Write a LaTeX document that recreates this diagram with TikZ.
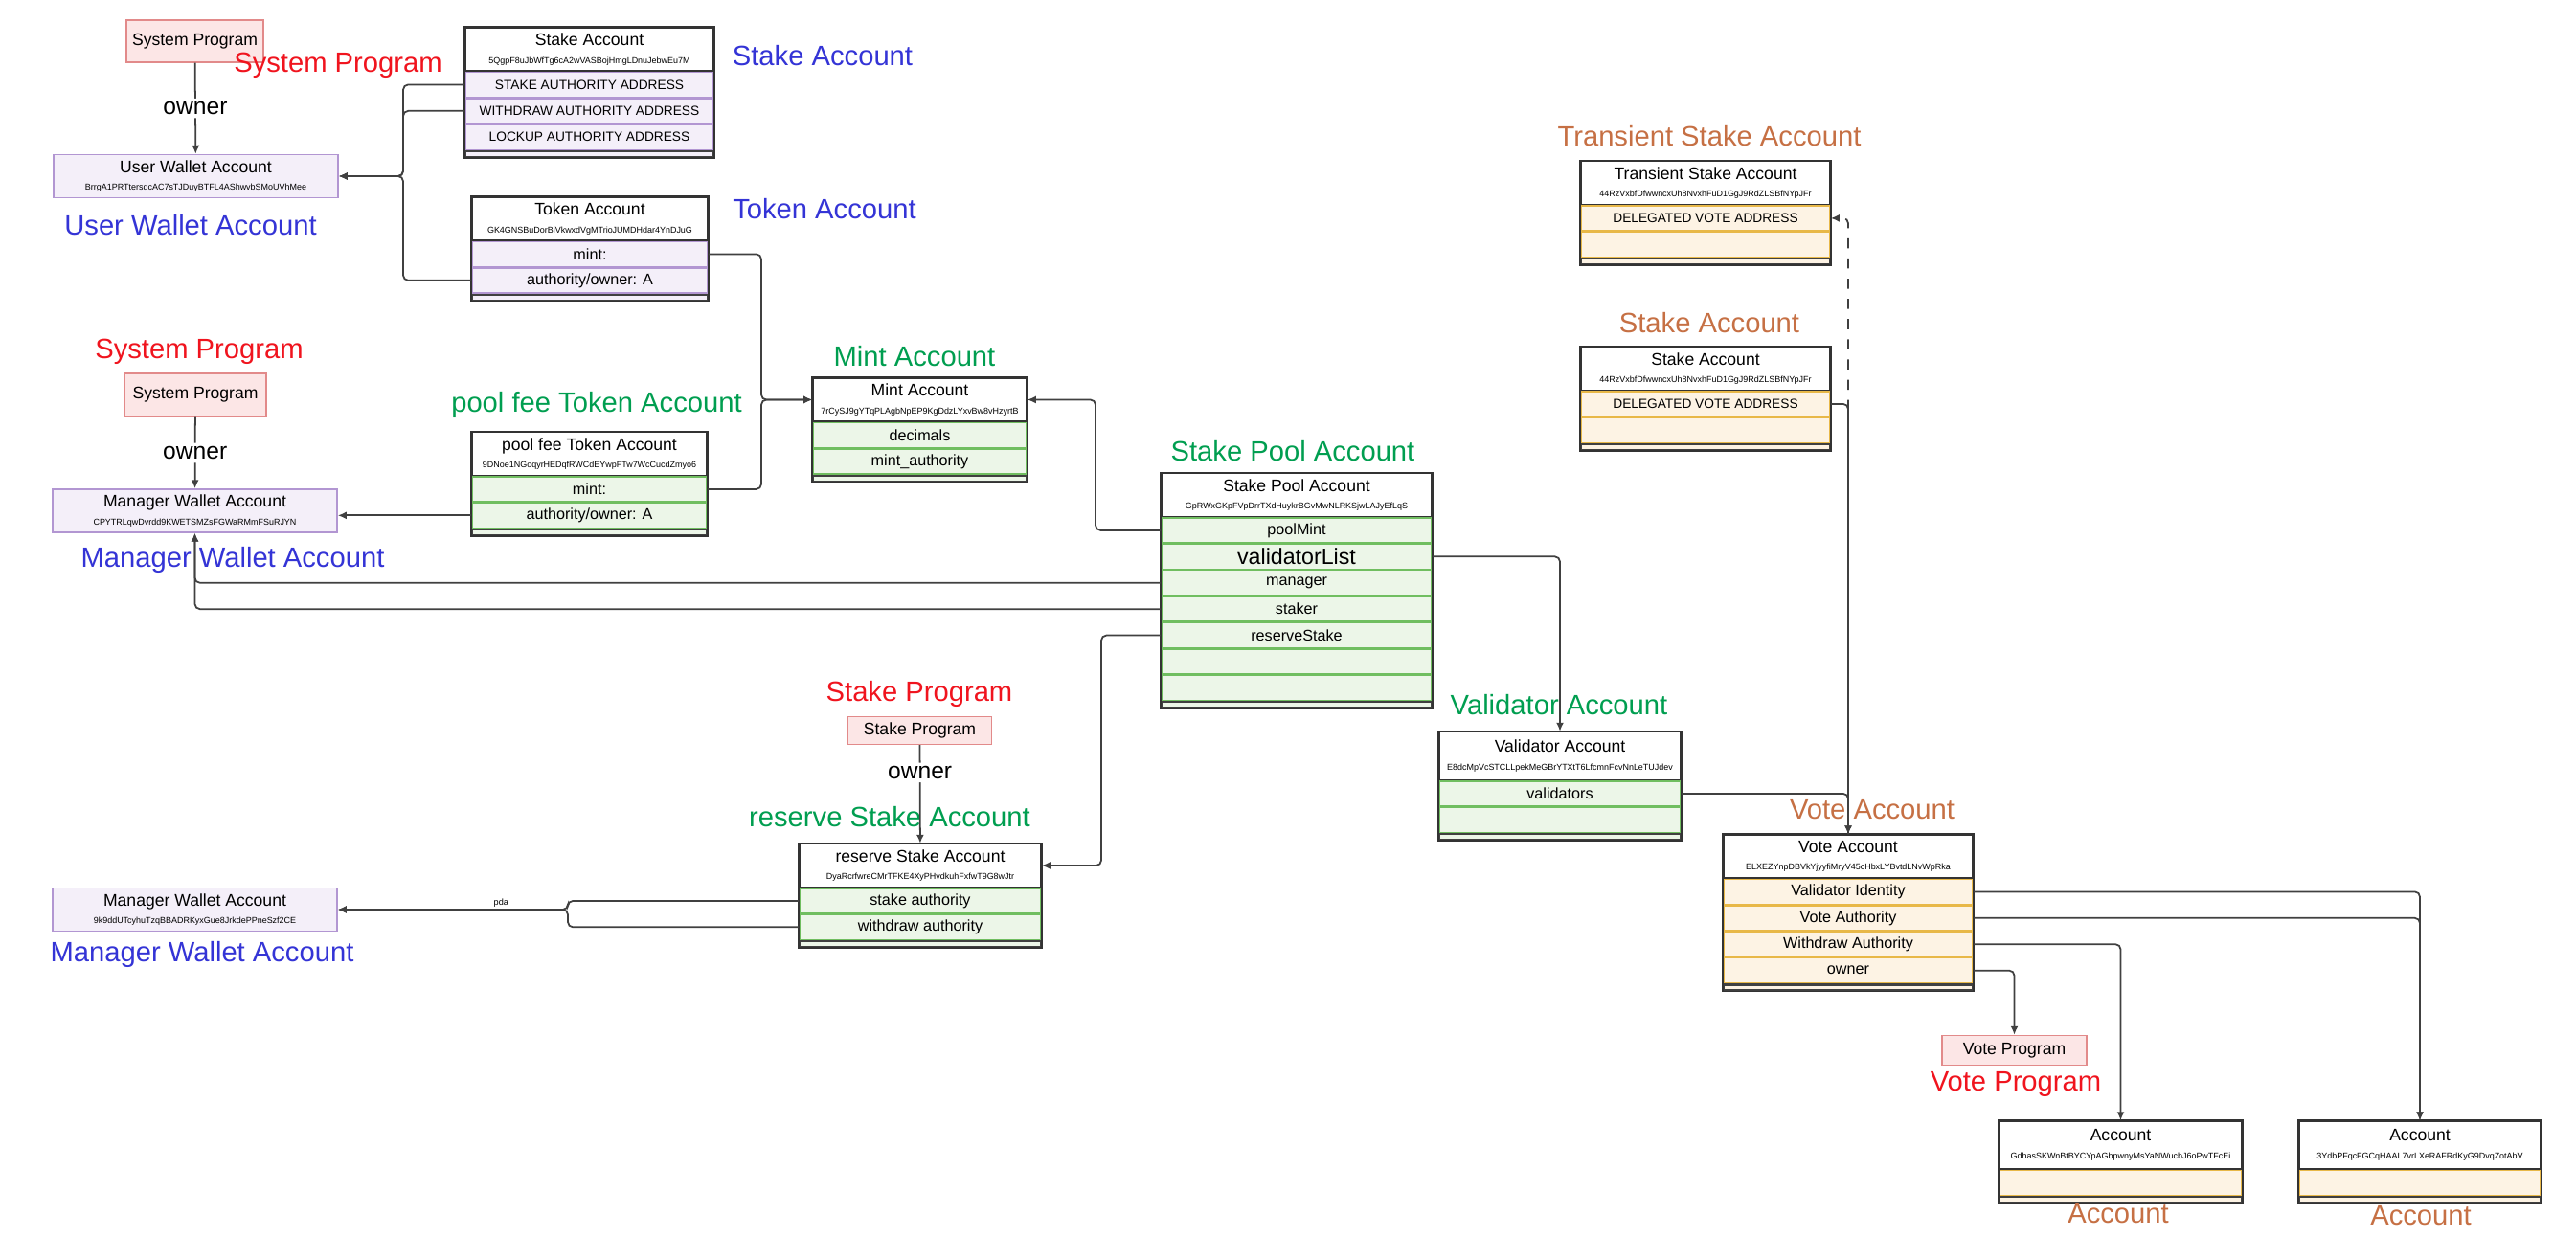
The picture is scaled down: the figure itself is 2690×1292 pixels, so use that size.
\documentclass[tikz,border=0pt]{standalone}
\usepackage{fontspec}
\setmainfont{Liberation Sans}
\usetikzlibrary{arrows.meta,%
	positioning}
\definecolor{lblblue}{RGB}{52,52,214}
\definecolor{lblred}{RGB}{240,20,30}
\definecolor{lblgreen}{RGB}{0,158,80}
\definecolor{lblorange}{RGB}{198,112,68}
\definecolor{purpfill}{RGB}{244,239,249}
\definecolor{purpline}{RGB}{178,150,210}
\definecolor{grnfill}{RGB}{236,246,232}
\definecolor{grnline}{RGB}{112,190,96}
\definecolor{orgfill}{RGB}{253,243,228}
\definecolor{orgline}{RGB}{232,184,72}
\definecolor{redfill}{RGB}{252,230,230}
\definecolor{redline}{RGB}{226,138,138}
\newcommand{\addr}[1]{\\[-0.8pt]{\fontsize{2.55}{3}\selectfont #1}}

\begin{document}
\begin{tikzpicture}[x=0.01cm, y=-0.01cm, hdr/.style = {draw=black!80, fill=white, minimum width=#1, minimum height=0.45cm, inner sep=0pt, align=center, font=\fontsize{5}{6}\selectfont}, prow/.style = {draw=purpline, fill=purpfill, minimum width=#1, minimum height=0.26cm, inner sep=0pt, font=\fontsize{4.6}{5}\selectfont}, grow/.style = {prow=#1, draw=grnline, fill=grnfill}, orow/.style = {prow=#1, draw=orgline, fill=orgfill}, foot/.style = {draw=black!75, minimum width=#1, minimum height=0.06cm, inner sep=0pt, line width=0.6pt}, acctframe/.style = {draw=black!80, line width=0.45pt}, prog/.style = {draw=redline, fill=redfill, inner sep=0pt, font=\fontsize{5}{6}\selectfont}, wallet/.style = {draw=purpline, fill=purpfill, minimum width=2.97cm, minimum height=0.45cm, inner sep=0pt, align=center, font=\fontsize{5}{6}\selectfont}, lbl/.style = {inner sep=0pt, font=\fontsize{8.3}{9}\selectfont}, ownr/.style = {fill=white, inner sep=1pt, font=\fontsize{7}{8}\selectfont}, pdatag/.style = {inner sep=0pt, font=\fontsize{2.6}{3}\selectfont}, link/.style = {draw=black!75, line width=0.5pt, rounded corners=1.5pt, -{Latex[length=0.9mm,width=0.8mm]}}]
	\useasboundingbox[fill=white] (0,0) rectangle (2690,1292);
	% user wallet side
	\node[prog, minimum width=1.43cm, minimum height=0.44cm] (sysA) at (203.5,43) {System Program};
	\node[lbl, text=lblred] (sysA-l) at (353,68) {System Program};
	\node[wallet] (uwa) at (204.5,184) {User Wallet Account\addr{BrrgA1PRTtersdcAC7sTJDuyBTFL4AShwvbSMoUVhMee}};
	\node[lbl, text=lblblue] (uwa-l) at (199,235) {User Wallet Account};
	\node[hdr=2.59cm] (stake) at (615.5,51.5) {Stake Account\addr{5QgpF8uJbWfTg6cA2wVASBojHmgLDnuJebwEu7M}};
	\node[prow=2.59cm, font=\fontsize{3.9}{4}\selectfont, below=0pt of stake] (stakeA) {STAKE AUTHORITY ADDRESS};
	\node[prow=2.59cm, font=\fontsize{3.9}{4}\selectfont, below=0pt of stakeA] (stakeB) {WITHDRAW AUTHORITY ADDRESS};
	\node[prow=2.59cm, font=\fontsize{3.9}{4}\selectfont, below=0pt of stakeB] (stakeC) {LOCKUP AUTHORITY ADDRESS};
	\node[foot=2.59cm, fill=purpfill, below=0pt of stakeC] (stakeF) {};
	\draw[acctframe] (stake.north west) rectangle (stakeF.south east);
	\node[lbl, text=lblblue] (stake-l) at (859,58) {Stake Account};
	\node[hdr=2.46cm] (tok) at (616,228.5) {Token Account\addr{GK4GNSBuDorBiVkwxdVgMTrioJUMDHdar4YnDJuG}};
	\node[prow=2.46cm, below=0pt of tok] (tokA) {mint:};
	\node[prow=2.46cm, below=0pt of tokA] (tokB) {authority/owner: A};
	\node[foot=2.46cm, fill=purpfill, below=0pt of tokB] (tokF) {};
	\draw[acctframe] (tok.north west) rectangle (tokF.south east);
	\node[lbl, text=lblblue] (tok-l) at (861,218) {Token Account};
	% manager wallet side
	\node[lbl, text=lblred] (sysB-l) at (208,367) {System Program};
	\node[prog, minimum width=1.48cm, minimum height=0.45cm] (sysB) at (204,412.5) {System Program};
	\node[wallet] (mwa) at (203.5,533.5) {Manager Wallet Account\addr{CPYTRLqwDvrdd9KWETSMZsFGWaRMmFSuRJYN}};
	\node[lbl, text=lblblue] (mwa-l) at (243,585) {Manager Wallet Account};
	\node[lbl, text=lblgreen] (pft-l) at (623,423) {pool fee Token Account};
	\node[hdr=2.45cm] (pft) at (615.5,474) {pool fee Token Account\addr{9DNoe1NGoqyrHEDqfRWCdEYwpFTw7WcCucdZmyo6}};
	\node[grow=2.45cm, below=0pt of pft] (pftA) {mint:};
	\node[grow=2.45cm, below=0pt of pftA] (pftB) {authority/owner: A};
	\node[foot=2.45cm, fill=grnfill, below=0pt of pftB] (pftF) {};
	\draw[acctframe] (pft.north west) rectangle (pftF.south east);
	\node[lbl, text=lblgreen] (mint-l) at (955,372) {Mint Account};
	\node[hdr=2.23cm] (mint) at (960.5,417.5) {Mint Account\addr{7rCySJ9gYTqPLAgbNpEP9KgDdzLYxvBw8vHzyrtB}};
	\node[grow=2.23cm, below=0pt of mint] (mintA) {decimals};
	\node[grow=2.23cm, below=0pt of mintA] (mintB) {mint\_authority};
	\node[foot=2.23cm, fill=grnfill, below=0pt of mintB] (mintF) {};
	\draw[acctframe] (mint.north west) rectangle (mintF.south east);
	% stake pool
	\node[lbl, text=lblgreen] (spa-l) at (1350,471) {Stake Pool Account};
	\node[hdr=2.82cm] (spa) at (1354,517) {Stake Pool Account\addr{GpRWxGKpFVpDrrTXdHuykrBGvMwNLRKSjwLAJyEfLqS}};
	\node[grow=2.82cm, below=0pt of spa] (spaA) {poolMint};
	\node[grow=2.82cm, font=\fontsize{6.6}{7}\selectfont, below=0pt of spaA] (spaB) {validatorList};
	\node[grow=2.82cm, below=0pt of spaB] (spaC) {manager};
	\node[grow=2.82cm, below=0pt of spaC] (spaD) {staker};
	\node[grow=2.82cm, below=0pt of spaD] (spaE) {reserveStake};
	\node[grow=2.82cm, below=0pt of spaE] (spaG) {};
	\node[grow=2.82cm, below=0pt of spaG] (spaH) {};
	\node[foot=2.82cm, fill=grnfill, below=0pt of spaH] (spaF) {};
	\draw[acctframe] (spa.north west) rectangle (spaF.south east);
	% reserve stake
	\node[lbl, text=lblred] (stp-l) at (960,725) {Stake Program};
	\node[prog, minimum width=1.5cm, minimum height=0.29cm] (stp) at (960.5,763) {Stake Program};
	\node[lbl, text=lblgreen] (rsa-l) at (929,853) {reserve Stake Account};
	\node[hdr=2.52cm] (rsa) at (961,904) {reserve Stake Account\addr{DyaRcrfwreCMrTFKE4XyPHvdkuhFxfwT9G8wJtr}};
	\node[grow=2.52cm, below=0pt of rsa] (rsaA) {stake authority};
	\node[grow=2.52cm, below=0pt of rsaA] (rsaB) {withdraw authority};
	\node[foot=2.52cm, fill=grnfill, below=0pt of rsaB] (rsaF) {};
	\draw[acctframe] (rsa.north west) rectangle (rsaF.south east);
	\node[wallet] (mwb) at (203.5,950) {Manager Wallet Account\addr{9k9ddUTcyhuTzqBBADRKyxGue8JrkdePPneSzf2CE}};
	\node[lbl, text=lblblue] (mwb-l) at (211,997) {Manager Wallet Account};
	% validator
	\node[lbl, text=lblgreen] (val-l) at (1628,736) {Validator Account};
	\node[hdr=2.52cm, minimum height=0.5cm] (val) at (1629,789.5) {Validator Account\addr{E8dcMpVcSTCLLpekMeGBrYTXtT6LfcmnFcvNnLeTUJdev}};
	\node[grow=2.52cm, below=0pt of val] (valA) {validators};
	\node[grow=2.52cm, below=0pt of valA] (valB) {};
	\node[foot=2.52cm, fill=grnfill, below=0pt of valB] (valF) {};
	\draw[acctframe] (val.north west) rectangle (valF.south east);
	% transient and stake
	\node[lbl, text=lblorange] (trs-l) at (1785,142) {Transient Stake Account};
	\node[hdr=2.6cm] (trs) at (1781,191) {Transient Stake Account\addr{44RzVxbfDfwwncxUh8NvxhFuD1GgJ9RdZLSBfNYpJFr}};
	\node[orow=2.6cm, font=\fontsize{3.9}{4}\selectfont, below=0pt of trs] (trsA) {DELEGATED VOTE ADDRESS};
	\node[orow=2.6cm, below=0pt of trsA] (trsB) {};
	\node[foot=2.6cm, fill=orgfill, below=0pt of trsB] (trsF) {};
	\draw[acctframe] (trs.north west) rectangle (trsF.south east);
	\node[lbl, text=lblorange] (stkx-l) at (1785,337) {Stake Account};
	\node[hdr=2.6cm] (stkx) at (1781,385) {Stake Account\addr{44RzVxbfDfwwncxUh8NvxhFuD1GgJ9RdZLSBfNYpJFr}};
	\node[orow=2.6cm, font=\fontsize{3.9}{4}\selectfont, below=0pt of stkx] (stkxA) {DELEGATED VOTE ADDRESS};
	\node[orow=2.6cm, below=0pt of stkxA] (stkxB) {};
	\node[foot=2.6cm, fill=orgfill, below=0pt of stkxB] (stkxF) {};
	\draw[acctframe] (stkx.north west) rectangle (stkxF.south east);
	% vote account
	\node[lbl, text=lblorange] (vote-l) at (1955,846) {Vote Account};
	\node[hdr=2.6cm] (vote) at (1930,894.5) {Vote Account\addr{ELXEZYnpDBVkYjyyfiMryV45cHbxLYBvtdLNvWpRka}};
	\node[orow=2.6cm, below=0pt of vote] (voteA) {Validator Identity};
	\node[orow=2.6cm, below=0pt of voteA] (voteB) {Vote Authority};
	\node[orow=2.6cm, below=0pt of voteB] (voteC) {Withdraw Authority};
	\node[orow=2.6cm, below=0pt of voteC] (voteD) {owner};
	\node[foot=2.6cm, fill=orgfill, below=0pt of voteD] (voteF) {};
	\draw[acctframe] (vote.north west) rectangle (voteF.south east);
	\node[prog, minimum width=1.51cm, minimum height=0.31cm] (vtp) at (2103.5,1097) {Vote Program};
	\node[lbl, text=lblred] (vtp-l) at (2105,1132) {Vote Program};
	\node[hdr=2.53cm, minimum height=0.5cm] (aca) at (2214.5,1196) {Account\addr{GdhasSKWnBtBYCYpAGbpwnyMsYaNWucbJ6oPwTFcEi}};
	\node[orow=2.53cm, below=0pt of aca] (acaA) {};
	\node[foot=2.53cm, fill=orgfill, below=0pt of acaA] (acaF) {};
	\draw[acctframe] (aca.north west) rectangle (acaF.south east);
	\node[lbl, text=lblorange] (aca-l) at (2212,1268) {Account};
	\node[hdr=2.52cm, minimum height=0.5cm] (acb) at (2527,1196) {Account\addr{3YdbPFqcFGCqHAAL7vrLXeRAFRdKyG9DvqZotAbV}};
	\node[orow=2.52cm, below=0pt of acb] (acbA) {};
	\node[foot=2.52cm, fill=orgfill, below=0pt of acbA] (acbF) {};
	\draw[acctframe] (acb.north west) rectangle (acbF.south east);
	\node[lbl, text=lblorange] (acb-l) at (2528,1270) {Account};
	% joints
	\coordinate (uj) at (421,184);
	\coordinate (mj) at (795,417.5);
	\coordinate (pj) at (1144,417.5);
	\coordinate (rj) at (1150,904);
	\coordinate (wj) at (593,950);
	% connectors
	\draw[link] (sysA) -- node[ownr] {owner} (uwa);
	\draw[link] (stakeA.west) -| (uj) -- (uwa.east);
	\draw[link] (stakeB.west) -| (uj) -- (uwa.east);
	\draw[link] (tokB.west) -| (uj) -- (uwa.east);
	\draw[link] (tokA.east) -| (mj) -- (mint.west);
	\draw[link] (pftA.east) -| (mj) -- (mint.west);
	\draw[link] (sysB) -- node[ownr] {owner} (mwa);
	\draw[link] (pftB.west) -- (pftB.west -| mwa.east);
	\draw[link] (spaA.west) -| (pj) -- (mint.east);
	\draw[link] (spaB.east) -| (val.north);
	\draw[link] (spaC.west) -| (mwa.south);
	\draw[link] (spaD.west) -| (mwa.south);
	\draw[link] (spaE.west) -| (rj) -- (rsa.east);
	\draw[link] (stp) -- node[ownr, pos=0.28] {owner} (rsa);
	\draw[link] (rsaA.west) -| (wj) -- node[pdatag, pos=0.29, above=0.5pt] {pda} (mwb.east);
	\draw[link] (rsaB.west) -| (wj) -- (mwb.east);
	\draw[link] (valA.east) -| (vote.north);
	\draw[link] (stkxA.east) -| (vote.north);
	\draw[link, dashed] (vote.north) |- (trsA.east);
	\draw[link] (voteA.east) -| (acb.north);
	\draw[link] (voteB.east) -| (acb.north);
	\draw[link] (voteC.east) -| (aca.north);
	\draw[link] (voteD.east) -| (vtp.north);
\end{tikzpicture}
\end{document}
